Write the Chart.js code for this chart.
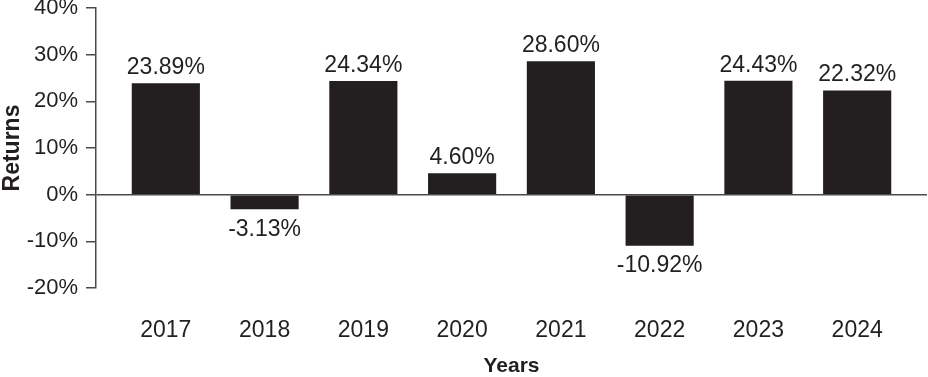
<!DOCTYPE html>
<html>
<head>
<meta charset="utf-8">
<script src="https://cdn.jsdelivr.net/npm/chart.js@4/dist/chart.umd.min.js"></script>
<style>
  html, body { margin: 0; padding: 0; background: #fff; }
  #wrap { width: 928px; height: 377px; }
</style>
</head>
<body>
<div id="wrap"><canvas id="returns-chart"></canvas></div>
<script>
// values
const years = [2017, 2018, 2019, 2020, 2021, 2022, 2023, 2024];
const returns = [23.89, -3.13, 24.34, 4.60, 28.60, -10.92, 24.43, 22.32];
const yTicks = [-20, -10, 0, 10, 20, 30, 40];

const FONT = "'Liberation Sans', Arial, sans-serif";
const INK = '#231f20';
const AXIS = '#4a4a4a';

// value labels above / below each bar
const barLabels = {
    id: 'barLabels',
    afterDatasetsDraw(chart) {
        const ctx = chart.ctx;
        const meta = chart.getDatasetMeta(0);
        ctx.save();
        ctx.font = '23px ' + FONT;
        ctx.fillStyle = INK;
        ctx.textAlign = 'center';
        meta.data.forEach((bar, i) => {
            const v = returns[i];
            const txt = v.toFixed(2) + '%';
            if (v >= 0) {
                ctx.textBaseline = 'bottom';
                ctx.fillText(txt, bar.x, bar.y - 4);
            } else {
                ctx.textBaseline = 'top';
                ctx.fillText(txt, bar.x, bar.y + 9);
            }
        });
        ctx.restore();
    }
};

const ctx = document.getElementById('returns-chart').getContext('2d');
const chart = new Chart(ctx, {
    type: 'bar',
    data: {
        datasets: [{
            label: 'Returns',
            data: years.map((y, i) => ({ x: y, y: returns[i] })),
            backgroundColor: INK,
            borderWidth: 0,
            barPercentage: 0.69,
            categoryPercentage: 1
        }]
    },
    options: {
        responsive: true,
        maintainAspectRatio: false,
        animation: false,
        layout: { padding: { top: 8, right: 1, left: 0, bottom: 0 } },
        plugins: {
            legend: { display: false },
            tooltip: { enabled: false }
        },
        scales: {
            x: {
                type: 'linear',
                offset: false,
                min: years[0] - 0.707,
                max: years[years.length - 1] + 0.707,
                afterBuildTicks: scale => {
                    scale.ticks = years.map(v => ({ value: v }));
                },
                afterFit: scale => {
                    scale.height = 89;
                    scale.paddingLeft = 0;
                    scale.paddingRight = 0;
                },
                grid: { display: false, drawTicks: false },
                border: { display: false },
                ticks: {
                    padding: 29,
                    color: INK,
                    font: { family: FONT, size: 23 },
                    callback: v => String(v)
                },
                title: {
                    display: true,
                    text: 'Years',
                    color: INK,
                    font: { family: FONT, size: 21, weight: 'bold', lineHeight: 1 },
                    padding: { top: 0, bottom: 0 }
                }
            },
            y: {
                min: -20,
                max: 40,
                afterBuildTicks: scale => {
                    scale.ticks = yTicks.map(v => ({ value: v }));
                },
                afterFit: scale => {
                    scale.width = 96;
                    scale.paddingTop = 0;
                    scale.paddingBottom = 0;
                },
                grid: {
                    drawTicks: true,
                    tickLength: 10,
                    tickColor: AXIS,
                    lineWidth: 1.5,
                    color: c => (c.tick && c.tick.value === 0) ? AXIS : 'rgba(0,0,0,0)'
                },
                border: { display: true, color: AXIS, width: 1.5 },
                ticks: {
                    padding: 8,
                    color: INK,
                    font: { family: FONT, size: 22 },
                    callback: v => v + '%'
                },
                title: {
                    display: true,
                    text: 'Returns',
                    color: INK,
                    font: { family: FONT, size: 23, weight: 'bold', lineHeight: 1.1 },
                    padding: { top: 0, bottom: 0 }
                }
            }
        }
    },
    plugins: [barLabels]
});
</script>
</body>
</html>
